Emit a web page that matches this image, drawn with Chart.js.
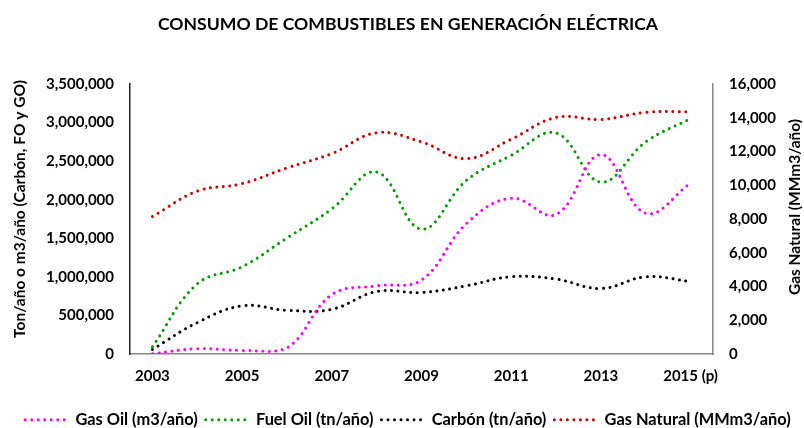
<!DOCTYPE html>
<html>
<head>
<meta charset="utf-8">
<script src="https://cdn.jsdelivr.net/npm/chart.js@4/dist/chart.umd.min.js"></script>
<style>
  html, body { margin: 0; padding: 0; background: #fff; }
  #wrap { width: 804px; height: 428px; }
</style>
</head>
<body>
<div id="wrap"><canvas id="combustiblesChart" width="804" height="428"></canvas></div>
<script>
const years = ["2003", "2004", "2005", "2006", "2007", "2008", "2009", "2010", "2011", "2012", "2013", "2014", "2015 (p)"];
const gasOil = [5000, 70000, 48000, 80000, 770000, 885000, 960000, 1690000, 2020000, 1810000, 2585000, 1825000, 2215000];
const fuelOil = [95000, 910000, 1132000, 1505000, 1882000, 2359000, 1620000, 2250000, 2576000, 2866000, 2229000, 2750000, 3053000];
const carbon = [60000, 408000, 625000, 568000, 581000, 811000, 798000, 885000, 1002000, 972000, 850000, 1002000, 941000];
const gasNatural = [8150, 9650, 10100, 11030, 11880, 13110, 12570, 11580, 12730, 14020, 13900, 14320, 14360];

const fontFamily = "Lato, 'Liberation Sans', sans-serif";
const dots = [0.01, 6.5];

function serie(label, data, color, axis) {
  return {
    label: label,
    data: data,
    yAxisID: axis,
    borderColor: color,
    backgroundColor: color,
    borderWidth: 3,
    borderDash: dots,
    borderCapStyle: "round",
    pointRadius: 0,
    tension: 0.4,
    fill: false
  };
}

// axis titles drawn by hand: the right one reads bottom-to-top like the left one
const axisTitles = {
  id: "axisTitles",
  afterDraw(chart) {
    const c = chart.ctx;
    c.save();
    c.fillStyle = "#000";
    c.font = "bold 15.5px " + fontFamily;
    c.textAlign = "center";
    c.textBaseline = "middle";
    c.translate(20, 209);
    c.rotate(-Math.PI / 2);
    c.fillText("Ton/año o m3/año (Carbón, FO y GO)", 0, 0);
    c.restore();
    c.save();
    c.fillStyle = "#000";
    c.font = "bold 15.5px " + fontFamily;
    c.textAlign = "center";
    c.textBaseline = "middle";
    c.translate(795, 207);
    c.rotate(-Math.PI / 2);
    c.fillText("Gas Natural (MMm3/año)", 0, 0);
    c.restore();
  }
};

const ctx = document.getElementById("combustiblesChart").getContext("2d");

new Chart(ctx, {
  type: "line",
  data: {
    labels: years,
    datasets: [
      serie("Gas Oil (m3/año)", gasOil, "#ff00ff", "y"),
      serie("Fuel Oil (tn/año)", fuelOil, "#009900", "y"),
      serie("Carbón (tn/año)", carbon, "#000000", "y"),
      serie("Gas Natural (MMm3/año)", gasNatural, "#cc0000", "y1")
    ]
  },
  plugins: [axisTitles],
  options: {
    responsive: false,
    animation: false,
    layout: { padding: { left: 12, right: 0, top: 0, bottom: -10 } },
    plugins: {
      title: {
        display: true,
        text: "CONSUMO DE COMBUSTIBLES EN GENERACIÓN ELÉCTRICA",
        color: "#000",
        font: { family: fontFamily, size: 17.6, weight: "bold" },
        padding: { top: 13.4, bottom: 49.5 }
      },
      legend: {
        position: "bottom",
        labels: {
          color: "#000",
          font: { family: fontFamily, size: 16.4, weight: "bold" },
          usePointStyle: true,
          pointStyle: "line",
          pointStyleWidth: 42,
          boxHeight: 3,
          padding: 8,
          generateLabels: (chart) => chart.data.datasets.map((ds, i) => ({
            text: ds.label,
            fillStyle: ds.borderColor,
            strokeStyle: ds.borderColor,
            lineWidth: 3,
            lineDash: dots,
            lineCap: "round",
            pointStyle: "line",
            hidden: false,
            datasetIndex: i
          }))
        }
      },
      tooltip: { enabled: false }
    },
    scales: {
      x: {
        offset: true,
        grid: { display: false, drawTicks: false },
        border: { color: "#888", width: 1.5 },
        ticks: {
          color: "#000",
          font: { family: fontFamily, size: 15, weight: "bold" },
          padding: 13,
          maxRotation: 0,
          autoSkip: false,
          callback: function (value, index) {
            return index % 2 === 0 ? this.getLabelForValue(value) : "";
          }
        },
        afterFit: function (scale) { scale.height = 49.5; }
      },
      y: {
        position: "left",
        min: 0,
        max: 3500000,
        grid: { display: false, drawTicks: false },
        border: { color: "#222", width: 1.5 },
        ticks: {
          stepSize: 500000,
          color: "#000",
          font: { family: fontFamily, size: 15, weight: "bold" },
          padding: 16,
          callback: (v) => v.toLocaleString("en-US")
        },
        afterFit: function (scale) { scale.width = 118; }
      },
      y1: {
        position: "right",
        min: 0,
        max: 16000,
        grid: { display: false, drawTicks: false },
        border: { color: "#888", width: 1.5 },
        ticks: {
          stepSize: 2000,
          color: "#000",
          font: { family: fontFamily, size: 15, weight: "bold" },
          padding: 16,
          callback: (v) => v.toLocaleString("en-US")
        },
        afterFit: function (scale) { scale.width = 91; }
      }
    }
  }
});
</script>
</body>
</html>
